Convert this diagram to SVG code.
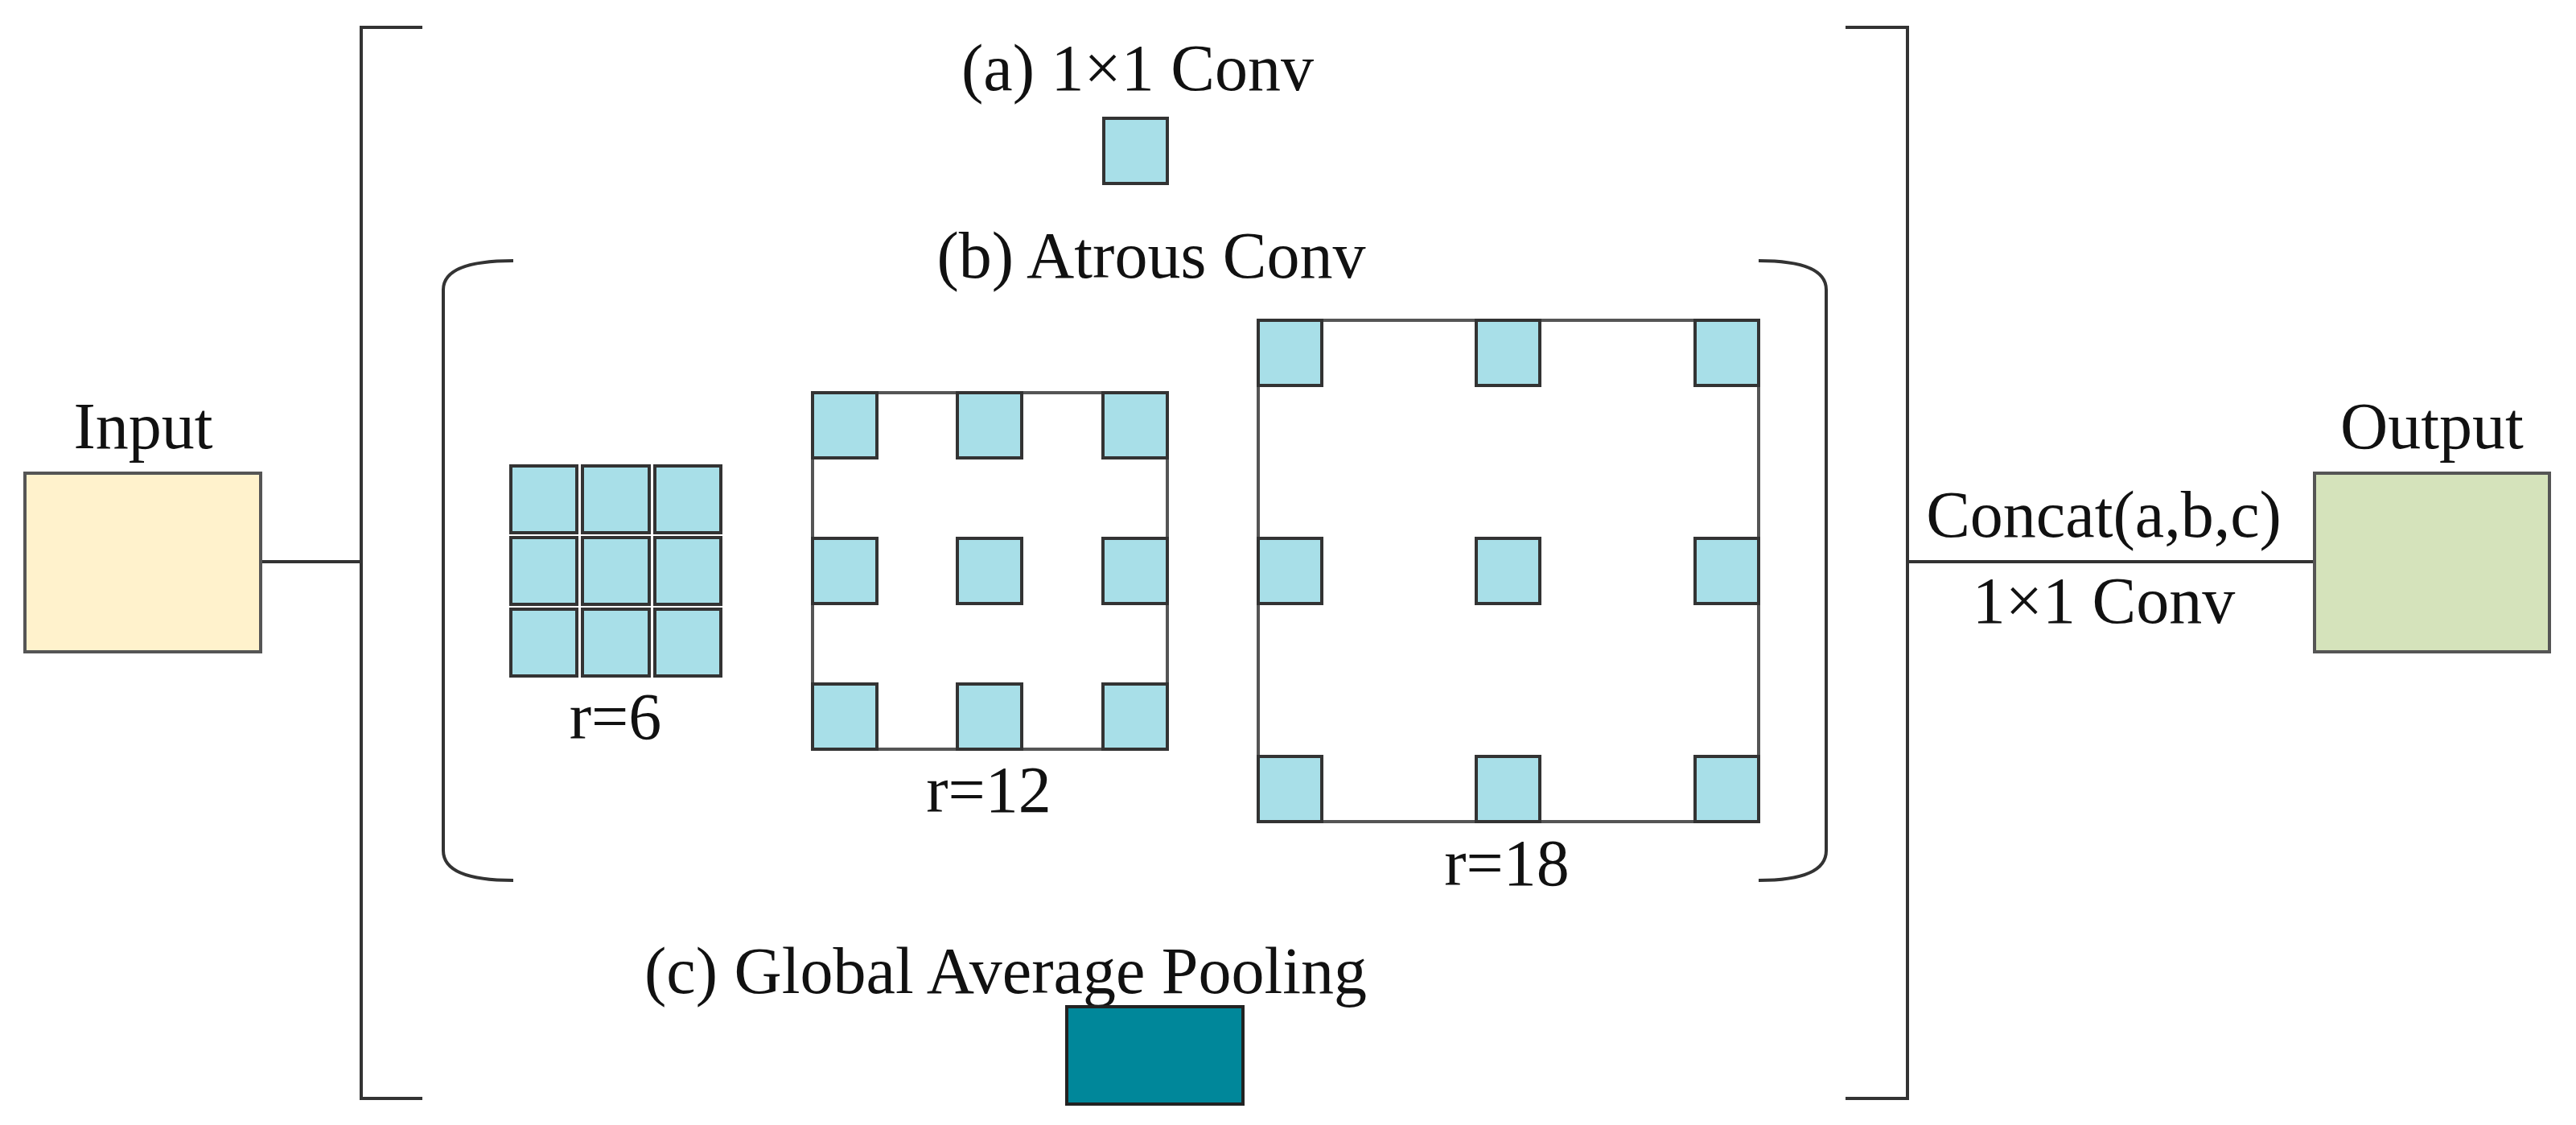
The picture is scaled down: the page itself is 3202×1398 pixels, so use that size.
<svg xmlns="http://www.w3.org/2000/svg" width="3202" height="1398" viewBox="0 0 3202 1398">
<style>
text{font-family:"Liberation Serif","Times New Roman",serif;font-size:82px;fill:#111;text-anchor:middle}
.c{fill:#a8dfe8;stroke:#333;stroke-width:4}
.ln{fill:none;stroke:#333;stroke-width:4}
.fr{fill:#fff;stroke:#555;stroke-width:4}
</style>
<rect width="3202" height="1398" fill="#fff"/>
<g id="connectors">
<line class="ln" x1="324" y1="698" x2="449" y2="698"/>
<line class="ln" x1="2371" y1="698" x2="2877" y2="698"/>
<text x="2615" y="667">Concat(a,b,c)</text>
<text x="2615" y="774">1×1 Conv</text>
</g>
<g id="input"><rect x="31" y="588" width="293" height="222" fill="#fff2cc" stroke="#555" stroke-width="4"/><text x="178" y="557">Input</text></g>
<g id="output"><rect x="2877" y="588" width="292" height="222" fill="#d5e3bb" stroke="#555" stroke-width="4"/><text x="3023" y="557">Output</text></g>
<g id="brackets">
<path class="ln" d="M525 34 H449 V1365 H525"/>
<path class="ln" d="M2294 34 H2371 V1365 H2294"/>
<path class="ln" d="M638 324 Q551 324 551 360 V1057 Q551 1094 638 1094"/>
<path class="ln" d="M2186 324 Q2270 324 2270 360 V1057 Q2270 1094 2186 1094"/>
</g>
<g id="a"><text x="1414" y="112">(a) 1×1 Conv</text><rect class="c" x="1372" y="147" width="79" height="81"/></g>
<g id="b"><text x="1431" y="345">(b) Atrous Conv</text></g>
<g id="r6">
<rect class="c" x="635" y="579" width="82" height="83"/><rect class="c" x="724" y="579" width="83" height="83"/><rect class="c" x="814" y="579" width="82" height="83"/>
<rect class="c" x="635" y="668" width="82" height="83"/><rect class="c" x="724" y="668" width="83" height="83"/><rect class="c" x="814" y="668" width="82" height="83"/>
<rect class="c" x="635" y="757" width="82" height="83"/><rect class="c" x="724" y="757" width="83" height="83"/><rect class="c" x="814" y="757" width="82" height="83"/>
<text x="765" y="918">r=6</text>
</g>
<g id="r12">
<rect class="fr" x="1010" y="488" width="441" height="443"/>
<rect class="c" x="1010" y="488" width="80" height="81"/><rect class="c" x="1190" y="488" width="80" height="81"/><rect class="c" x="1371" y="488" width="80" height="81"/>
<rect class="c" x="1010" y="669" width="80" height="81"/><rect class="c" x="1190" y="669" width="80" height="81"/><rect class="c" x="1371" y="669" width="80" height="81"/>
<rect class="c" x="1010" y="850" width="80" height="81"/><rect class="c" x="1190" y="850" width="80" height="81"/><rect class="c" x="1371" y="850" width="80" height="81"/>
<text x="1229" y="1009">r=12</text>
</g>
<g id="r18">
<rect class="fr" x="1564" y="398" width="622" height="623"/>
<rect class="c" x="1564" y="398" width="79" height="81"/><rect class="c" x="1835" y="398" width="79" height="81"/><rect class="c" x="2107" y="398" width="79" height="81"/>
<rect class="c" x="1564" y="669" width="79" height="81"/><rect class="c" x="1835" y="669" width="79" height="81"/><rect class="c" x="2107" y="669" width="79" height="81"/>
<rect class="c" x="1564" y="940" width="79" height="81"/><rect class="c" x="1835" y="940" width="79" height="81"/><rect class="c" x="2107" y="940" width="79" height="81"/>
<text x="1873" y="1100">r=18</text>
</g>
<g id="c"><text x="1250" y="1234">(c) Global Average Pooling</text><rect x="1326" y="1251" width="219" height="121" fill="#00879a" stroke="#222" stroke-width="4"/></g>
</svg>
